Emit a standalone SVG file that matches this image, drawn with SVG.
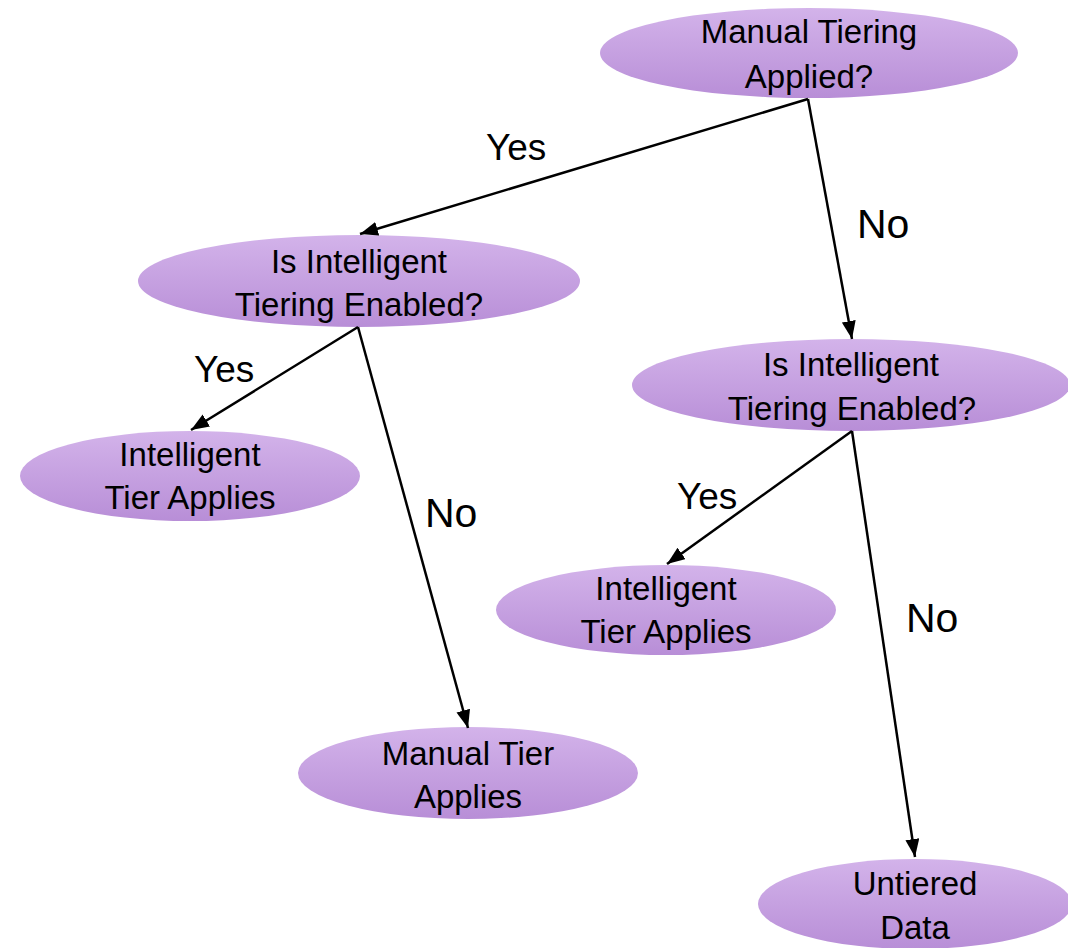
<svg xmlns="http://www.w3.org/2000/svg" width="1068" height="948" viewBox="0 0 1068 948">
<style>
.node ellipse{fill:url(#g);}
.t{font-family:"Liberation Sans",Arial,sans-serif;font-size:33px;fill:#000;text-anchor:middle;}
.lab{font-family:"Liberation Sans",Arial,sans-serif;fill:#000;}
.yes{font-size:37px;}
.no{font-size:41px;}
.c line{stroke:#000;stroke-width:2.5;fill:none;marker-end:url(#ah);}
</style>
<defs>
<linearGradient id="g" x1="0" y1="0" x2="0" y2="1">
<stop offset="0" stop-color="#d3b3ea"/>
<stop offset="1" stop-color="#b88ed7"/>
</linearGradient>
<marker id="ah" markerUnits="userSpaceOnUse" markerWidth="20" markerHeight="16" refX="18" refY="7" orient="auto">
<path d="M0,0 L18,7 L0,14 z" fill="#000"/>
</marker>
</defs>
<rect width="1068" height="948" fill="#fff"/>
<g id="n1" class="node"><ellipse cx="809" cy="53" rx="209" ry="45"/><text class="t" x="809" y="43">Manual Tiering</text><text class="t" x="809" y="88">Applied?</text></g>
<g id="n2" class="node"><ellipse cx="359" cy="281" rx="221" ry="46"/><text class="t" x="359" y="273">Is Intelligent</text><text class="t" x="359" y="316">Tiering Enabled?</text></g>
<g id="n3" class="node"><ellipse cx="851" cy="385" rx="219" ry="46"/><text class="t" x="851" y="376">Is Intelligent</text><text class="t" x="852" y="420">Tiering Enabled?</text></g>
<g id="n4" class="node"><ellipse cx="190" cy="476" rx="170" ry="45"/><text class="t" x="190" y="466">Intelligent</text><text class="t" x="190" y="509">Tier Applies</text></g>
<g id="n5" class="node"><ellipse cx="666" cy="610" rx="170" ry="45"/><text class="t" x="666" y="600">Intelligent</text><text class="t" x="666" y="643">Tier Applies</text></g>
<g id="n6" class="node"><ellipse cx="468" cy="773" rx="170" ry="46"/><text class="t" x="468" y="765">Manual Tier</text><text class="t" x="468" y="808">Applies</text></g>
<g id="n7" class="node"><ellipse cx="915" cy="904" rx="157" ry="45"/><text class="t" x="915" y="895">Untiered</text><text class="t" x="915" y="939">Data</text></g>
<g id="connectors" class="c">
<line x1="808" y1="99" x2="360" y2="234"/>
<line x1="808" y1="99" x2="852" y2="339"/>
<line x1="358" y1="327" x2="191" y2="430"/>
<line x1="358" y1="327" x2="468" y2="728"/>
<line x1="852" y1="431" x2="667" y2="564"/>
<line x1="852" y1="431" x2="915" y2="857"/>
</g>
<g id="labels">
<text class="lab yes" x="486" y="160">Yes</text>
<text class="lab no" x="857" y="238">No</text>
<text class="lab yes" x="194" y="382">Yes</text>
<text class="lab no" x="425" y="527">No</text>
<text class="lab yes" x="677" y="509">Yes</text>
<text class="lab no" x="906" y="632">No</text>
</g>
</svg>
